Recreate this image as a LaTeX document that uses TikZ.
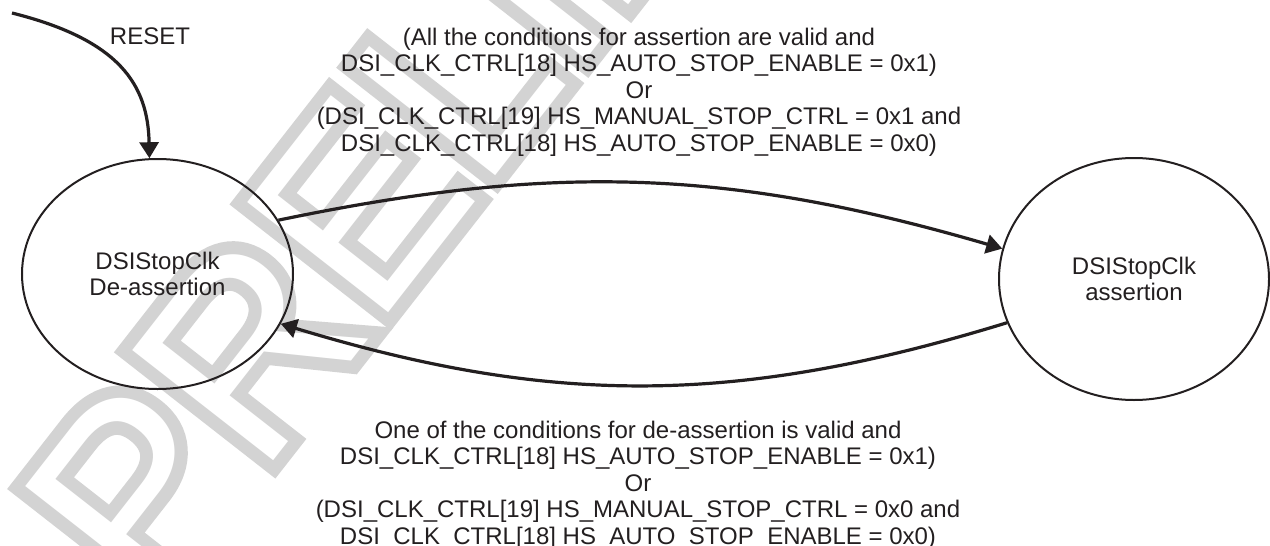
\documentclass[tikz,border=0pt]{standalone}
\usepackage{fontspec}
\setmainfont{Liberation Sans}
\usetikzlibrary{arrows.meta,shapes.geometric}
\definecolor{inkgray}{RGB}{35,31,32}
\definecolor{markgray}{RGB}{211,211,211}
\font\wmedge="Liberation Sans:embolden=10" at 130pt
\font\wmface="Liberation Sans" at 130pt

\begin{document}
\begin{tikzpicture}[x=0.5pt,y=0.5pt,
  state/.style={ellipse, draw=inkgray, line width=1pt, align=center, inner sep=0pt, text=inkgray},
  link/.style={draw=inkgray, line width=1.6pt, -{Triangle[length=8pt, width=9.5pt]}},
  cond/.style={align=center, text=inkgray, inner sep=0pt}]
\useasboundingbox (0,0) rectangle (1270,-546);
\tikzset{every node/.append style={font=\fontsize{12pt}{13.3pt}\selectfont}}
% watermark behind everything
\node[anchor=base west, rotate=52, inner sep=0pt, text=markgray, font=\wmedge] (wmedge) at (153,-614) {PRELIMINARY};
\node[anchor=base west, rotate=52, inner sep=0pt, text=white, font=\wmface] (wmface) at (153,-614) {PRELIMINARY};
% states
\node[state, minimum width=135.5pt, minimum height=115pt] (dea) at (157.5,-274) {DSIStopClk\\De-assertion};
\node[state, minimum width=135pt, minimum height=121pt] (asr) at (1134,-279) {DSIStopClk\\assertion};
% conditions
\node[cond] (rstlbl) at (150,-36) {RESET};
\node[cond] (uplbl) at (639,-92) {(All the conditions for assertion are valid and\\DSI\_CLK\_CTRL[18] HS\_AUTO\_STOP\_ENABLE = 0x1)\\Or\\(DSI\_CLK\_CTRL[19] HS\_MANUAL\_STOP\_CTRL = 0x1 and\\DSI\_CLK\_CTRL[18] HS\_AUTO\_STOP\_ENABLE = 0x0)};
\node[cond] (dnlbl) at (638,-485) {One of the conditions for de-assertion is valid and\\DSI\_CLK\_CTRL[18] HS\_AUTO\_STOP\_ENABLE = 0x1)\\Or\\(DSI\_CLK\_CTRL[19] HS\_MANUAL\_STOP\_CTRL = 0x0 and\\DSI\_CLK\_CTRL[18] HS\_AUTO\_STOP\_ENABLE = 0x0)};
% transitions
\coordinate (rst) at (12,-13);
\draw[link] (rst) .. controls (120,-40) and (148,-85) .. (dea.94);
\draw[link] (dea.24) to[bend left=14] (asr.167);
\draw[link] (asr.199) to[bend left=17] (dea.-22);
\end{tikzpicture}
\end{document}
